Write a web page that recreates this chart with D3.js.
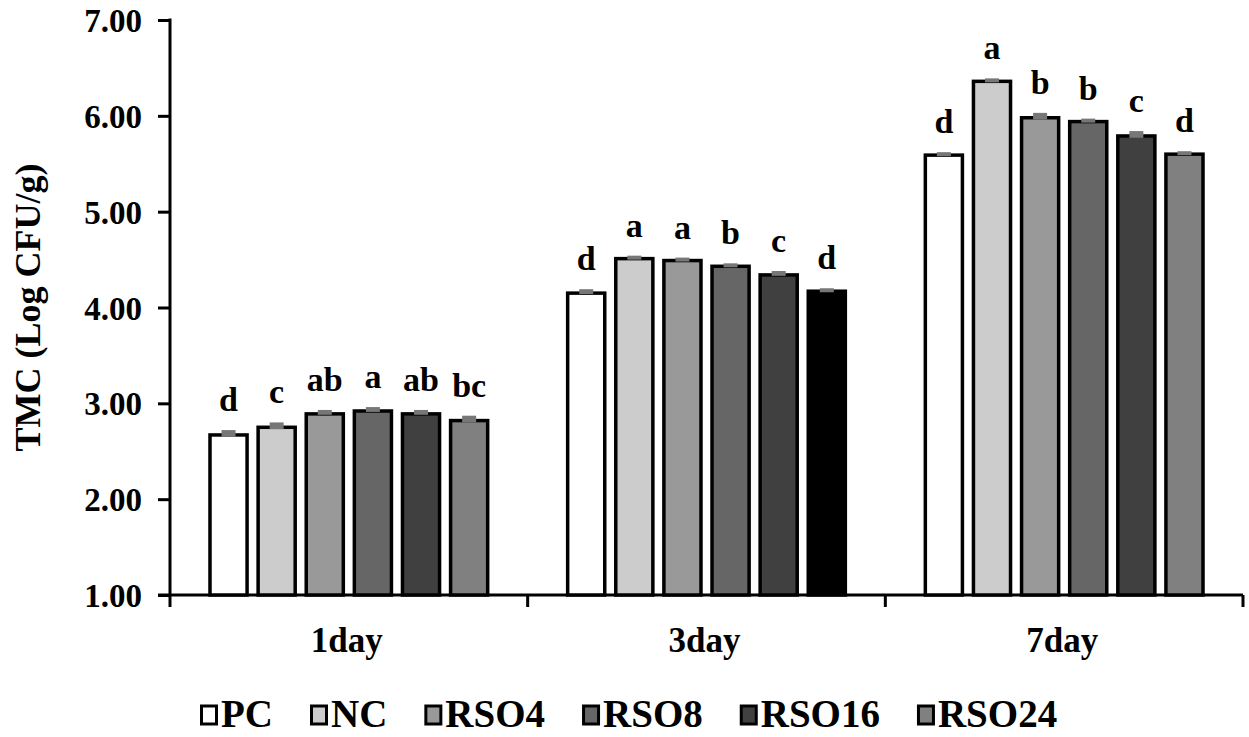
<!DOCTYPE html>
<html>
<head>
<meta charset="utf-8">
<script src="https://cdn.jsdelivr.net/npm/d3@7"></script>
<style>
  body { margin: 0; background: #fff; }
  svg text { font-family: "Liberation Serif", "Times New Roman", serif; font-weight: bold; fill: #000; }
</style>
</head>
<body>
<svg id="chart" width="1249" height="737"></svg>
<script>
// data
const days = ['1day', '3day', '7day']
const series = ['PC', 'NC', 'RSO4', 'RSO8', 'RSO16', 'RSO24']
const values = {
  '1day': [2.67, 2.75, 2.89, 2.92, 2.89, 2.82],
  '3day': [4.15, 4.51, 4.49, 4.43, 4.34, 4.17],
  '7day': [5.59, 6.36, 5.98, 5.94, 5.79, 5.60]
}
const errors = {
  '1day': [0.03, 0.03, 0.02, 0.02, 0.02, 0.03],
  '3day': [0.02, 0.01, 0.01, 0.01, 0.02, 0.01],
  '7day': [0.01, 0.01, 0.03, 0.01, 0.03, 0.01]
}
const letters = {
  '1day': ['d', 'c', 'ab', 'a', 'ab', 'bc'],
  '3day': ['d', 'a', 'a', 'b', 'c', 'd'],
  '7day': ['d', 'a', 'b', 'b', 'c', 'd']
}
const yTicks = [1, 2, 3, 4, 5, 6, 7]

const fills = ['#ffffff', '#cccccc', '#999999', '#666666', '#404040', '#808080']
// the 3day RSO24 bar is drawn black in the original
const fillOverride = { '3day|RSO24': '#000000' }

const svg = d3.select('#chart')
const margin = { left: 170, right: 6, top: 20, bottom: 142 }
const width = 1249
const height = 737

const x0 = d3.scaleBand().domain(days).range([margin.left, width - margin.right])
const x1 = d3.scaleBand().domain(series).range([0, x0.bandwidth()])
  .paddingInner(0.167).paddingOuter(0.8)
const y = d3.scaleLinear().domain([1, 7]).range([height - margin.bottom, margin.top])

// y axis
const yAxis = svg.append('g')
  .attr('transform', `translate(${margin.left},0)`)
  .call(d3.axisLeft(y).tickValues(yTicks).tickFormat(d3.format('.2f')).tickSize(12).tickPadding(16))
yAxis.select('.domain').attr('stroke', '#000').attr('stroke-width', 3)
  .attr('d', `M0,${y(7) - 1.5}V${y(1)}`)
yAxis.selectAll('.tick line').attr('stroke', '#000').attr('stroke-width', 3)
yAxis.selectAll('.tick text').style('font-size', '33px').attr('dy', '0.35em')

// x axis
const xAxis = svg.append('g')
  .attr('transform', `translate(0,${y(1)})`)
xAxis.append('line')
  .attr('x1', margin.left - 12).attr('x2', width - margin.right)
  .attr('stroke', '#000').attr('stroke-width', 3)
const bounds = days.map(d => x0(d)).concat([x0(days[days.length - 1]) + x0.bandwidth()])
xAxis.selectAll('.xtick').data(bounds).join('line')
  .attr('x1', d => d).attr('x2', d => d)
  .attr('y1', 0).attr('y2', 12)
  .attr('stroke', '#000').attr('stroke-width', 3)
xAxis.selectAll('.xlabel').data(days).join('text')
  .attr('x', d => x0(d) + x0.bandwidth() / 2 - 2)
  .attr('y', 57)
  .attr('text-anchor', 'middle')
  .style('font-size', '35px')
  .text(d => d)

// y title
svg.append('text')
  .attr('transform', `translate(40,${(y(1) + y(7)) / 2}) rotate(-90)`)
  .attr('text-anchor', 'middle')
  .style('font-size', '36px')
  .text('TMC (Log CFU/g)')

// bars
const groups = svg.append('g').selectAll('g').data(days).join('g')
  .attr('transform', d => `translate(${x0(d)},0)`)

const rows = d => series.map((s, i) => ({ day: d, s, i, v: values[d][i], e: errors[d][i], l: letters[d][i] }))

groups.selectAll('rect').data(rows).join('rect')
  .attr('x', d => x1(d.s) + 1.5)
  .attr('y', d => y(d.v))
  .attr('width', x1.bandwidth() - 3)
  .attr('height', d => y(1) - y(d.v))
  .attr('fill', d => fillOverride[d.day + '|' + d.s] || fills[d.i])
  .attr('stroke', '#000')
  .attr('stroke-width', 3.5)

// error caps
groups.selectAll('.err').data(rows).join('rect')
  .attr('class', 'err')
  .attr('x', d => x1(d.s) + x1.bandwidth() / 2 - 7)
  .attr('y', d => y(d.v + d.e) - 2)
  .attr('width', 14)
  .attr('height', d => Math.max(3, y(d.v - d.e) - y(d.v + d.e)) + 1)
  .attr('fill', '#777')

// significance letters
groups.selectAll('.lab').data(rows).join('text')
  .attr('class', 'lab')
  .attr('x', d => x1(d.s) + x1.bandwidth() / 2)
  .attr('y', d => y(d.v + d.e) - 21)
  .attr('text-anchor', 'middle')
  .style('font-size', '34px')
  .text(d => d.l)

// legend
const legend = svg.append('g').attr('transform', 'translate(200,715)')
let lx = 0
series.forEach((s, i) => {
  const item = legend.append('g').attr('transform', `translate(${lx},0)`)
  item.append('rect')
    .attr('x', 1.5).attr('y', -9).attr('width', 15).attr('height', 18)
    .attr('fill', fills[i]).attr('stroke', '#000').attr('stroke-width', 3)
  const t = item.append('text')
    .attr('x', 21).attr('y', 12)
    .style('font-size', '39px')
    .text(s)
  lx += 21 + t.node().getComputedTextLength() + 37
})
</script>
</body>
</html>
